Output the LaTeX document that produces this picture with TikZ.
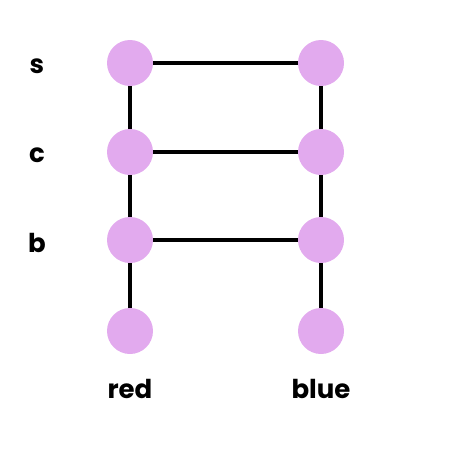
\documentclass[tikz,border=0pt]{standalone}
\usepackage{fontspec}
\setmainfont{Poppins}
\definecolor{nodefill}{RGB}{226,170,238}
\begin{document}
\begin{tikzpicture}[x=1pt,y=-1pt,
  vert/.style={circle,fill=nodefill,minimum size=46pt,inner sep=0pt},
  edge/.style={line width=3.2pt,black},
  lab/.style={font=\fontsize{26}{30}\selectfont\bfseries,text=black}]
\useasboundingbox (0,0) rectangle (450,450);
\node[vert] (rs) at (130,63) {};
\node[vert] (rc) at (130,152) {};
\node[vert] (rb) at (130,240) {};
\node[vert] (rr) at (130,331) {};
\node[vert] (bs) at (321,63) {};
\node[vert] (bc) at (321,152) {};
\node[vert] (bb) at (321,240) {};
\node[vert] (br) at (321,331) {};
\draw[edge] (rs) -- (rc); \draw[edge] (rc) -- (rb); \draw[edge] (rb) -- (rr);
\draw[edge] (bs) -- (bc); \draw[edge] (bc) -- (bb); \draw[edge] (bb) -- (br);
\draw[edge] (rs) -- (bs); \draw[edge] (rc) -- (bc); \draw[edge] (rb) -- (bb);
\node[lab] (ls) at (37,66) {s};
\node[lab] (lc) at (37,155) {c};
\node[lab] (lb) at (37,243) {b};
\node[lab] (lred) at (130,389) {red};
\node[lab] (lblue) at (321,389) {blue};
\end{tikzpicture}
\end{document}
